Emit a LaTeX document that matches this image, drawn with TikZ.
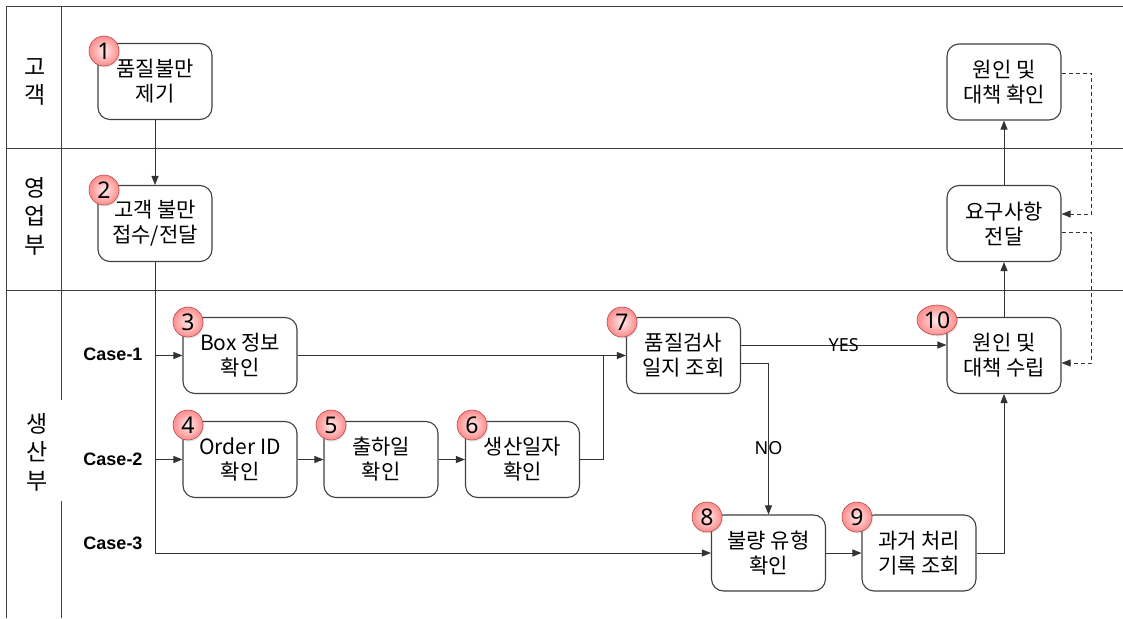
\documentclass[tikz,border=0pt]{standalone}
\usepackage{fontspec}
\setmainfont{Noto Sans CJK KR}
\newfontfamily\latinfont{Noto Sans}
\newfontfamily\casefont{Liberation Sans}
\usetikzlibrary{arrows.meta,shadows,shapes.geometric}
\begin{document}
\begin{tikzpicture}[x=1pt,y=-1pt,
  lane/.style={draw=black!75,line width=1pt},
  box/.style={draw=black!75,line width=1.1pt,rounded corners=12pt,fill=white,
    minimum width=114pt,minimum height=76pt,align=center,inner sep=0pt,
    font=\fontsize{21}{25}\selectfont},
  badge/.style={circle,draw=red!60!black!70,line width=0.6pt,inner sep=0pt,
    minimum size=30pt,inner color=red!8,outer color=red!45,
    font=\latinfont\fontsize{23}{23}\selectfont,
    drop shadow={opacity=0.2,shadow xshift=1pt,shadow yshift=-1.5pt}},
  badgewide/.style={badge,ellipse,minimum width=40pt,minimum height=30pt},
  lanelabel/.style={align=center,font=\fontsize{23}{28.5}\selectfont,inner sep=0pt},
  caselabel/.style={font=\casefont\bfseries\fontsize{18}{20}\selectfont,inner sep=0pt},
  cond/.style={font=\latinfont\fontsize{18}{18}\selectfont,inner sep=0pt},
  arr/.style={draw=black!80,line width=0.9pt,-{Triangle[length=9pt,width=7pt]}},
  plain/.style={draw=black!80,line width=0.9pt},
  darr/.style={draw=black!80,line width=0.9pt,dash pattern=on 4pt off 3pt,-{Triangle[length=9pt,width=7pt]}}
]
\useasboundingbox (0,0) rectangle (1123,618);
\fill[white] (0,0) rectangle (1123,618);

% lanes
\draw[lane] (6,618) -- (6,7) -- (1123,7);
\draw[lane] (6,148) -- (1123,148);
\draw[lane] (6,290) -- (1123,290);
\draw[lane] (61,7) -- (61,400);
\draw[lane] (61,501) -- (61,618);

\node[lanelabel] (l1) at (35,82) {고\\객};
\node[lanelabel] (l2) at (35,216) {영\\업\\부};
\node[lanelabel] (l3) at (37,452) {생\\산\\부};

% boxes
\node[box] (b1) at (155,81.5) {품질불만\\제기};
\node[box] (b2) at (155,223.5) {고객 불만\\접수/전달};
\node[box] (b3) at (240,355.5) {Box 정보\\확인};
\node[box] (b4) at (240,459.5) {Order ID\\확인};
\node[box] (b5) at (381,459.5) {출하일\\확인};
\node[box] (b6) at (522.5,459.5) {생산일자\\확인};
\node[box] (b7) at (683.5,355.5) {품질검사\\일지 조회};
\node[box] (b8) at (768.5,553) {불량 유형\\확인};
\node[box] (b9) at (919,553) {과거 처리\\기록 조회};
\node[box] (b10) at (1004,355.5) {원인 및\\대책 수립};
\node[box] (req) at (1004,223.5) {요구사항\\전달};
\node[box] (conf) at (1004,82) {원인 및\\대책 확인};

% case labels
\node[caselabel] (c1l) at (113,354) {Case-1};
\node[caselabel] (c2l) at (113,459) {Case-2};
\node[caselabel] (c3l) at (113,543) {Case-3};

\coordinate (c1) at (155,355.5);
\coordinate (c2) at (155,459.5);
\coordinate (j) at (603,355.5);

% connectors
\draw[arr] (b1) -- (b2);
\draw[arr] (b2.south) |- (b8.west);
\draw[arr] (c1) -- (b3.west);
\draw[arr] (c2) -- (b4.west);
\draw[arr] (b4) -- (b5);
\draw[arr] (b5) -- (b6);
\draw[arr] (b3.east) -- (b7.west);
\draw[plain] (b6.east) -| (j);
\draw[arr] ([yshift=10.5pt]b7.east) -- node[cond,midway] (yes) {YES} ([yshift=10.5pt]b10.west);
\draw[arr] ([yshift=-7.5pt]b7.east) -| node[cond,pos=0.78] (no) {NO} (b8.north);
\draw[arr] (b8) -- (b9);
\draw[arr] (b9.east) -| (b10.south);
\draw[arr] (b10) -- (req);
\draw[arr] (req) -- (conf);
\draw[darr] ([yshift=9pt]conf.east) -- ++(30,0) |- ([yshift=9.5pt]req.east);
\draw[darr] ([yshift=-8.5pt]req.east) -- ++(30,0) |- ([yshift=-7.5pt]b10.east);

% badges
\node[badge] (n1) at (104,51) {1};
\node[badge] (n2) at (104,190) {2};
\node[badge] (n3) at (188,322) {3};
\node[badge] (n4) at (188,425) {4};
\node[badge] (n5) at (331,425) {5};
\node[badge] (n6) at (472,425) {6};
\node[badge] (n7) at (622,322) {7};
\node[badge] (n8) at (707,517) {8};
\node[badge] (n9) at (857,517) {9};
\node[badgewide] (n10) at (937,320) {10};
\end{tikzpicture}
\end{document}
